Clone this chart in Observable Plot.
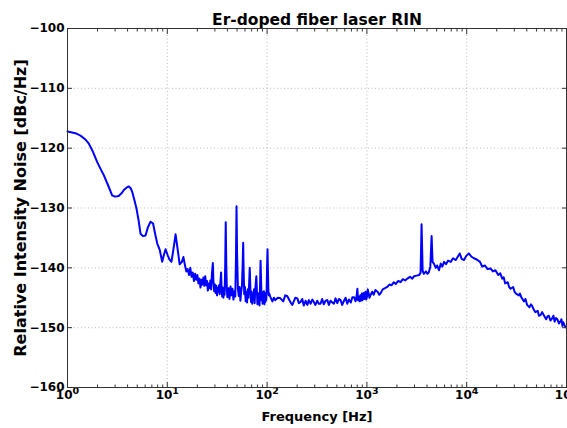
<!DOCTYPE html>
<html>
<head>
<meta charset="utf-8">
<script src="https://cdn.jsdelivr.net/npm/d3@7"></script>
<script src="https://cdn.jsdelivr.net/npm/@observablehq/plot@0.6"></script>
<style>
  html, body { margin: 0; padding: 0; background: #fff; }
  svg { display: block; }
</style>
</head>
<body>
<div id="chart"></div>
<script>
const title = "Er-doped fiber laser RIN";
const xLabel = "Frequency [Hz]";
const yLabel = "Relative Intensity Noise [dBc/Hz]";
const xTicks = [1, 10, 100, 1000, 10000, 100000];
const xTickExponents = ["0", "1", "2", "3", "4", "5"];
const yTicks = [-160, -150, -140, -130, -120, -110, -100];

// 1 – 15 Hz: smooth low-frequency roll-off
const freqLow = [1.0, 1.2, 1.35, 1.5, 1.63, 1.8, 1.98, 2.15, 2.31, 2.55, 2.8, 3.0, 3.26, 3.5, 3.67, 3.9, 4.12, 4.3, 4.45, 4.7,
  4.91, 5.15, 5.39, 5.7, 6.05, 6.4, 6.79, 7.2, 7.55, 7.92, 8.4, 8.89, 9.25, 9.61, 10.1, 10.5, 11.0, 11.5, 12.1, 12.6,
  13.3, 14.0, 14.5];
const rinLow = [-117.2, -117.5, -117.9, -118.5, -119.2, -120.6, -122.3, -123.5, -124.5, -126.2, -127.9, -128.1, -128.0, -127.5, -127.0, -126.6, -126.4, -126.7, -127.3, -128.8,
  -130.1, -132.0, -134.3, -134.7, -134.6, -133.2, -132.3, -132.6, -134.3, -135.9, -137.0, -139.0, -137.8, -136.9, -137.9, -138.6, -139.0, -137.0, -134.4, -136.5,
  -139.4, -139.0, -138.2];

// 15 – 105 Hz: noisy region with spurs
const freqMid = [15.0, 15.5, 16.0, 16.5, 17.0, 17.5, 18.0, 18.5, 19.0, 19.5, 20.0, 20.5, 21.0, 21.5, 22.0, 22.5, 23.0, 23.5, 24.0, 24.5,
  25.0, 25.5, 26.0, 26.5, 27.0, 27.5, 28.0, 28.6, 29.0, 29.5, 30.0, 30.5, 31.0, 31.5, 32.0, 32.5, 33.0, 33.5, 34.0, 34.6,
  35.0, 35.5, 36.0, 36.5, 37.0, 37.5, 38.0, 38.5, 39.0, 39.5, 40.0, 41, 42, 43, 44, 45, 46, 47, 48, 48.8,
  49.4, 50.0, 51, 52, 53, 54, 55, 56, 57, 57.6, 58.2, 59, 60, 61, 62, 63, 64, 65, 66, 67,
  68, 69, 70, 71, 72, 73, 74, 75, 76, 77, 78, 79, 80, 81, 82, 83, 84, 85, 86, 87,
  88, 89, 90, 91, 92, 93, 94, 95, 96, 97, 98, 99, 100, 101, 102, 103, 104, 105];
const rinMid = [-139.5, -140.6, -140.2, -141.2, -140.0, -141.5, -140.8, -142.2, -141.0, -142.0, -141.2, -142.6, -141.8, -143.3, -142.0, -142.8, -141.6, -143.0, -141.4, -142.9,
  -142.2, -143.8, -142.6, -143.4, -142.1, -143.6, -141.0, -139.2, -142.4, -143.9, -142.8, -144.2, -143.0, -144.6, -143.4, -144.0, -142.9, -144.4, -142.6, -140.8,
  -143.6, -144.8, -143.3, -145.0, -143.8, -144.5, -140.0, -132.4, -139.5, -143.6, -144.9, -143.4, -145.2, -143.1, -144.6, -143.5, -145.3, -143.9, -144.8, -138.0,
  -129.7, -137.5, -143.5, -144.7, -143.2, -145.5, -144.0, -143.0, -139.0, -135.8, -140.5, -144.4, -143.2, -145.6, -144.1, -145.8, -143.6, -145.0, -142.8, -140.0,
  -143.5, -145.7, -144.0, -146.0, -144.4, -145.2, -143.6, -145.9, -143.9, -142.5, -141.4, -143.8, -146.1, -144.5, -145.6, -144.2, -146.3, -143.0, -138.8, -142.0,
  -145.4, -144.0, -146.0, -144.6, -145.3, -143.9, -146.1, -144.8, -145.7, -144.2, -145.4, -143.5, -139.5, -136.9, -140.5, -143.8, -144.6, -144.3];

// 105 Hz – 100 kHz: floor, broad relaxation-oscillation hump and roll-off
const freqHigh = [108, 113, 117, 121, 128, 136, 145, 152, 159, 166, 172, 179, 185, 192, 201,
  208, 216, 225, 233, 243, 253, 262, 273, 284, 294, 305, 318, 330, 343, 356, 370, 385, 401, 416, 432,
  450, 467, 485, 505, 525, 545, 565, 590, 612, 636, 660, 690, 715, 743, 770, 790, 803, 815, 830, 845, 861, 875, 890, 905, 925,
  945, 967, 985, 1000, 1020, 1040, 1060, 1085, 1130, 1170, 1218, 1280, 1330, 1367, 1440, 1520, 1597, 1680, 1770, 1864, 1950, 2060, 2177, 2290,
  2420, 2544, 2700, 2850, 2970, 3150, 3340, 3450, 3530, 3620, 3720, 3900, 4050, 4180, 4320, 4450, 4550, 4690, 4900, 5050,
  5270, 5500, 5700, 5930, 6200, 6500, 6920, 7300, 7770, 8100, 8520, 8900, 9400, 9900, 10500, 11100, 11800, 12600, 13600, 14300,
  15200, 16200, 17300, 18300, 19400, 20700, 21700, 22700, 23500, 24300, 25800, 26600, 27500, 29200, 30200, 31200, 33300, 34200, 35200, 37400, 38800, 40300, 42500, 44000, 45400, 47000, 48800, 51500,
  53000, 55000, 57000, 59100, 62500, 64500, 66500, 69000, 71500, 74000, 76000, 78500, 81000, 84000, 86500, 89000, 91000, 93000, 95000, 97500, 100000];
const rinHigh = [-144.9, -145.6, -145.0, -145.4, -145.0, -145.1, -145.6, -144.6, -144.7, -145.3, -145.8, -146.2, -145.6, -145.0, -145.1,
  -145.9, -145.7, -145.2, -146.3, -145.5, -146.2, -145.4, -146.0, -145.3, -145.7, -146.2, -145.5, -146.0, -146.0, -145.2, -146.1, -145.5, -145.4, -146.2, -145.5,
  -145.8, -146.0, -145.1, -145.9, -145.2, -145.4, -146.2, -145.5, -145.0, -146.0, -145.3, -145.8, -144.9, -144.9, -145.6, -144.6, -143.5, -145.4, -144.8, -145.6, -144.6, -145.5, -144.3, -145.4, -144.2,
  -145.2, -144.0, -145.3, -144.9, -143.6, -144.2, -145.0, -144.6, -144.0, -144.5, -143.7, -144.0, -144.5, -144.3, -143.6, -143.4, -143.2, -142.8, -142.9, -142.4, -142.7, -142.2, -142.4, -141.9,
  -142.1, -141.8, -141.5, -141.8, -141.4, -141.3, -141.2, -140.8, -132.7, -140.5, -141.0, -140.6, -141.0, -140.7, -139.8, -134.7, -139.0, -139.3, -140.0, -139.6,
  -140.4, -139.3, -139.8, -139.0, -139.4, -138.8, -139.0, -138.4, -138.7, -138.2, -137.6, -138.5, -138.7, -138.0, -137.6, -138.1, -138.4, -138.6, -139.0, -139.8,
  -139.6, -140.2, -140.1, -140.6, -140.4, -141.2, -140.9, -141.8, -141.6, -142.6, -142.4, -143.2, -143.5, -143.2, -144.0, -144.3, -144.6, -144.3, -144.9, -145.6, -145.2, -146.2, -146.6, -146.1, -146.4, -147.0, -147.4, -147.2,
  -148.0, -147.9, -147.4, -147.9, -148.6, -148.1, -148.0, -148.8, -148.5, -148.0, -149.0, -148.4, -148.6, -149.3, -149.0, -148.6, -149.7, -149.1, -149.5, -149.9, -150.0];

const freq = [...freqLow, ...freqMid, ...freqHigh];
const rin = [...rinLow, ...rinMid, ...rinHigh];
const data = freq.map((f, i) => ({f, v: rin[i]}));

const minorTicks = [];
for (const d of [1, 10, 100, 1000, 10000]) for (let k = 2; k <= 9; k++) minorTicks.push(d * k);

const font = "DejaVu Sans, sans-serif";
const tickStroke = "#333";
const chart = Plot.plot({
  width: 567,
  height: 428,
  marginLeft: 67,
  marginRight: 1,
  marginTop: 28,
  marginBottom: 41,
  style: {fontFamily: font, fontSize: "12px", fontWeight: "bold", background: "#fff", color: "#000"},
  x: {type: "log", domain: [1, 100000]},
  y: {domain: [-160, -100]},
  marks: [
    Plot.gridX(xTicks, {stroke: "#999", strokeOpacity: 0.8, strokeDasharray: "1,2.5", strokeWidth: 0.8}),
    Plot.gridY(yTicks, {stroke: "#999", strokeOpacity: 0.8, strokeDasharray: "1,2.5", strokeWidth: 0.8}),
    Plot.line(data, {x: "f", y: "v", stroke: "#0000ff", strokeWidth: 2, strokeLinejoin: "round"}),
    Plot.axisX(minorTicks, {anchor: "bottom", tickSize: -2.5, text: null, label: null, stroke: tickStroke}),
    Plot.axisX(minorTicks, {anchor: "top", tickSize: -2.5, text: null, label: null, stroke: tickStroke}),
    Plot.axisX(xTicks, {anchor: "top", tickSize: -5, text: null, label: null, stroke: tickStroke}),
    Plot.axisX(xTicks, {anchor: "bottom", tickSize: -5, text: null, label: null, stroke: tickStroke}),
    Plot.axisX(xTicks, {anchor: "bottom", tickSize: 0, tickPadding: 3,
      tickFormat: d => "10|" + xTickExponents[xTicks.indexOf(d)],
      label: xLabel, labelAnchor: "center", labelArrow: "none", labelOffset: 33}),
    Plot.axisY(yTicks, {anchor: "left", tickSize: -5, text: null, label: null, stroke: tickStroke}),
    Plot.axisY(yTicks, {anchor: "right", tickSize: -5, text: null, label: null, stroke: tickStroke}),
    Plot.axisY(yTicks, {anchor: "left", tickSize: 0, tickPadding: 3, tickFormat: d => "\u2212" + Math.abs(d),
      label: yLabel, labelAnchor: "center", labelArrow: "none", labelOffset: 53}),
    Plot.frame({stroke: tickStroke, strokeWidth: 1}),
    Plot.text([title], {frameAnchor: "top", dy: -4, lineAnchor: "bottom", fontSize: 15.5, fontWeight: "bold"})
  ]
});
document.getElementById("chart").appendChild(chart);

// Render the x tick labels as 10 with a superscript exponent
d3.select(chart).selectAll("text").each(function() {
  const t = this.textContent;
  if (/^10\|\d$/.test(t)) {
    const exp = t.split("|")[1];
    const sel = d3.select(this);
    sel.text(null);
    sel.append("tspan").text("10");
    sel.append("tspan").attr("dy", "-0.55em").attr("font-size", "9.5px").text(exp);
  }
});
// Larger axis titles
d3.select(chart).selectAll('[aria-label="y-axis label"] text').attr("font-size", "16px");
d3.select(chart).selectAll('[aria-label="x-axis label"] text').attr("font-size", "13px");
</script>
</body>
</html>
